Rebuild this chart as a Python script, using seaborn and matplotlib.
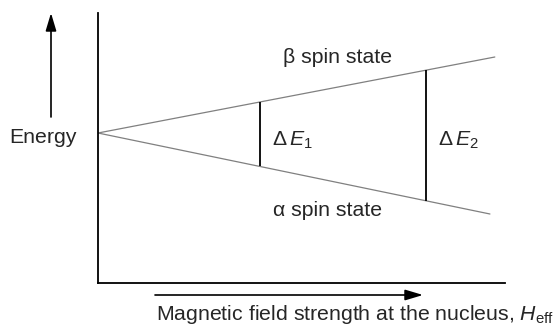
import numpy as np
import pandas as pd
import matplotlib
matplotlib.use("Agg")
import matplotlib.pyplot as plt
import seaborn as sns

# field strength (arbitrary units) and energy of the two spin states
field_beta = [0.0, 9.75]
energy_beta = [0.0, 0.76]
field_alpha = [0.0, 9.63]
energy_alpha = [0.0, -0.81]
# positions of the two energy-gap markers
gap_fields = [3.98, 8.06]
gap_labels = [r"$\Delta\,E_{1}$", r"$\Delta\,E_{2}$"]

sns.set_style("white")
plt.rcParams["font.family"] = ["Liberation Sans", "DejaVu Sans"]
plt.rcParams["mathtext.fontset"] = "custom"
plt.rcParams["mathtext.rm"] = "Liberation Sans"
plt.rcParams["mathtext.it"] = "Liberation Sans:italic"
plt.rcParams["mathtext.bf"] = "Liberation Sans:bold"

W, H = 558, 329
fig = plt.figure(figsize=(W / 100, H / 100), dpi=100)
ax = fig.add_axes([98 / W, 46 / H, 407 / W, 270 / H])

beta = pd.DataFrame({"field": field_beta, "energy": energy_beta})
alpha = pd.DataFrame({"field": field_alpha, "energy": energy_alpha})
sns.lineplot(data=beta, x="field", y="energy", color="#808080", lw=0.9, ax=ax)
sns.lineplot(data=alpha, x="field", y="energy", color="#808080", lw=0.9, ax=ax)

top = np.interp(gap_fields, field_beta, energy_beta)
bot = np.interp(gap_fields, field_alpha, energy_alpha)
ax.vlines(gap_fields, bot, top, color="black", lw=1.3)

ax.set_xlim(0, 10)
ax.set_ylim(-1.5, 1.2)
ax.set_xticks([])
ax.set_yticks([])
ax.set_xlabel("")
ax.set_ylabel("")
for s in ["top", "right"]:
    ax.spines[s].set_visible(False)
for s in ["left", "bottom"]:
    ax.spines[s].set_color("black")
    ax.spines[s].set_linewidth(1.3)

fs = 15.3


def px(x, y):
    return (x, H - y)


# state labels and gap labels
fig.text(338 / W, (H - 63) / H, "β spin state", fontsize=fs, ha="center", va="baseline")
fig.text(328 / W, (H - 216) / H, "α spin state", fontsize=fs, ha="center", va="baseline")
for f, lab in zip(gap_fields, gap_labels):
    xd = ax.transData.transform((f, 0))[0]
    fig.text((xd + 12) / W, (H - 146) / H, lab, fontsize=fs, ha="left", va="baseline")

fig.text(43 / W, (H - 143) / H, "Energy", fontsize=fs, ha="center", va="baseline")
fig.text(156 / W, (H - 320) / H, r"Magnetic field strength at the nucleus, $H_{\mathrm{eff}}$",
         fontsize=fs, ha="left", va="baseline")

arrow = dict(arrowstyle="-|>,head_length=0.6,head_width=0.18", color="black",
             lw=1.2, mutation_scale=18, shrinkA=0, shrinkB=0)
ax.annotate("", xy=px(51, 13), xytext=px(51, 117), xycoords="figure pixels",
            textcoords="figure pixels", arrowprops=arrow, annotation_clip=False)
ax.annotate("", xy=px(423, 295), xytext=px(155, 295), xycoords="figure pixels",
            textcoords="figure pixels", arrowprops=arrow, annotation_clip=False)

fig.savefig("out.png", dpi=100)
